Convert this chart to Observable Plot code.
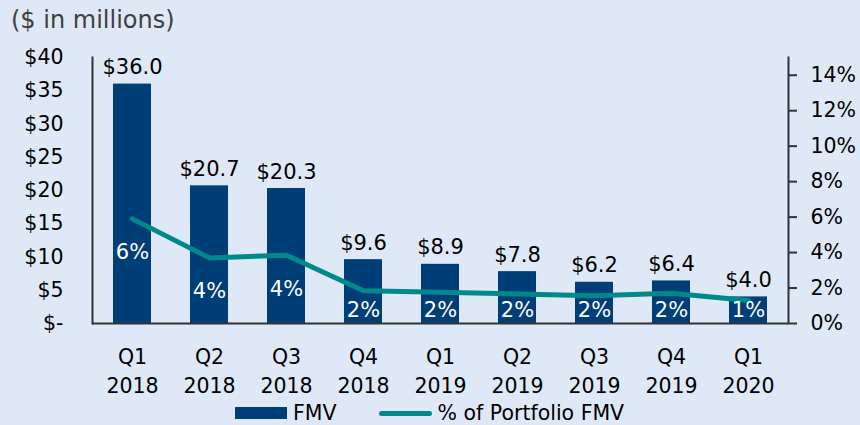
<!DOCTYPE html>
<html>
<head>
<meta charset="utf-8">
<script src="https://cdn.jsdelivr.net/npm/d3@7"></script>
<script src="https://cdn.jsdelivr.net/npm/@observablehq/plot@0.6"></script>
<style>
  html, body { margin: 0; padding: 0; background: #dfe8f7; }
  #wrap { position: relative; width: 860px; height: 425px; overflow: hidden; font-family: "DejaVu Sans", sans-serif; }
  #title { position: absolute; left: 11px; top: 0; height: 40px; line-height: 40px; font-size: 24px; color: #404040; }
  #legend { position: absolute; left: 235px; top: 401px; height: 24px; display: flex; align-items: center; font-size: 20.5px; color: #000; }
  .sw-bar { width: 52px; height: 12px; background: #003e78; margin-right: 6px; }
  .sw-line { width: 53px; height: 5px; border-radius: 3px; background: #00898a; margin-left: 42px; margin-right: 6px; }
  #chart { position: absolute; left: 0; top: 0; }
</style>
</head>
<body>
<div id="wrap">
  <div id="chart"></div>
  <div id="title">($ in millions)</div>
  <div id="legend"><div class="sw-bar"></div><span>FMV</span><div class="sw-line"></div><span>% of Portfolio FMV</span></div>
</div>
<script>
const quarters = ["Q1 2018","Q2 2018","Q3 2018","Q4 2018","Q1 2019","Q2 2019","Q3 2019","Q4 2019","Q1 2020"];
const fmv = [36.0, 20.7, 20.3, 9.6, 8.9, 7.8, 6.2, 6.4, 4.0];
const pctOfPortfolio = [5.9, 3.7, 3.85, 1.85, 1.76, 1.67, 1.57, 1.7, 1.3];
const leftTicks = [0, 5, 10, 15, 20, 25, 30, 35, 40];
const rightTicks = [0, 2, 4, 6, 8, 10, 12, 14];
const leftMax = 40;
const rightMax = 15;

const k = leftMax / rightMax;
const data = quarters.map((q, i) => ({q, fmv: fmv[i], pct: pctOfPortfolio[i]}));

const plot = Plot.plot({
  width: 860,
  height: 425,
  marginTop: 57,
  marginBottom: 102,
  marginLeft: 92,
  marginRight: 72,
  style: {background: "transparent", fontFamily: "DejaVu Sans", fontSize: "20.5px", color: "#000"},
  x: {domain: quarters, paddingInner: 0.51, paddingOuter: 0.255, label: null},
  y: {domain: [0, leftMax], label: null},
  marks: [
    Plot.barY(data, {x: "q", y: "fmv", fill: "#003e78"}),
    Plot.line(data, {x: "q", y: d => d.pct * k, stroke: "#00898a", strokeWidth: 5, strokeLinejoin: "round", strokeLinecap: "round"}),
    Plot.text(data, {x: "q", y: "fmv", text: d => "$" + d.fmv.toFixed(1), lineAnchor: "bottom", dy: -10, fontSize: 21, fill: "#000"}),
    Plot.text(data, {x: "q", y: d => Math.max(d.pct - 1.9, 0.75) * k, text: d => Math.round(d.pct) + "%", lineAnchor: "middle", fontSize: 21, fill: "#fff"}),
    Plot.ruleY([0], {stroke: "#333", strokeWidth: 2}),
    Plot.frame({anchor: "left", stroke: "#333", strokeWidth: 2}),
    Plot.frame({anchor: "right", stroke: "#333", strokeWidth: 2}),
    Plot.axisY(leftTicks, {anchor: "left", tickSize: 0, tickPadding: 29, tickFormat: d => d === 0 ? "$-" : "$" + d, label: null}),
    Plot.axisY(rightTicks.map(t => t * k), {anchor: "right", tickSize: 8, tickPadding: 14, stroke: "#333", strokeWidth: 2, tickFormat: d => Math.round(d / k) + "%", label: null}),
    Plot.axisX({tickSize: 0, tickPadding: 21, tickFormat: d => d.replace(" ", "\n"), lineHeight: 1.37, label: null})
  ]
});
document.getElementById("chart").appendChild(plot);
</script>
</body>
</html>
